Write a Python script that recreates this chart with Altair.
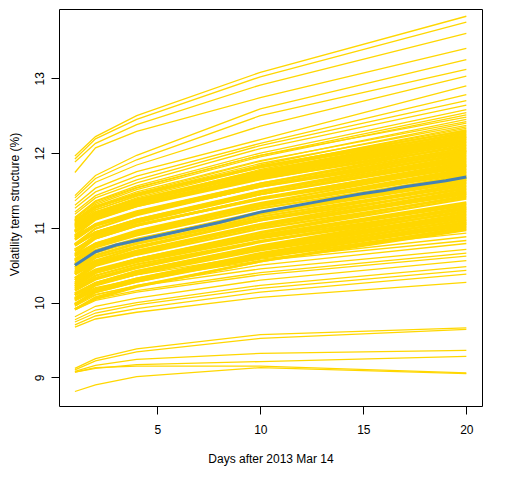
import altair as alt
import pandas as pd

days = [1, 2, 4, 10, 20]

day1 = [11.96, 11.92, 11.88, 11.74, 11.43, 11.40, 11.36, 11.30, 11.26, 11.21, 11.18, 11.14,
        11.12, 11.10, 11.13, 11.06, 11.09, 11.04, 11.07, 11.01, 11.05, 10.99,
        11.10, 11.02, 11.08, 11.03, 10.95, 11.05, 10.96, 11.00, 10.90, 10.94,
        10.88, 10.96, 10.87, 10.89, 10.78, 10.85, 10.78, 10.84, 10.76, 10.77,
        10.69, 10.77, 10.71, 10.65, 10.71, 10.64, 10.69, 10.57, 10.63, 10.58,
        10.62, 10.52, 10.55, 10.50, 10.56, 10.47, 10.51, 10.41, 10.44, 10.47,
        10.38, 10.41, 10.32, 10.39, 10.33, 10.38, 10.27, 10.30, 10.25, 10.30,
        10.21, 10.24, 10.16, 10.22, 10.17, 10.12, 10.19, 10.10, 10.12, 10.04,
        10.10, 10.03, 10.06, 9.98, 10.05, 9.97, 9.98, 9.91, 9.96, 9.91,
        10.10, 10.02, 10.06, 9.95, 9.98, 9.92, 9.90, 9.81, 9.77, 9.74, 9.70, 9.67,
        9.12, 9.10, 9.08, 9.07, 9.07, 8.81]

day2 = [12.22, 12.19, 12.13, 12.07, 11.70, 11.66, 11.61, 11.53, 11.48, 11.43, 11.40, 11.36,
        11.33, 11.31, 11.35, 11.26, 11.29, 11.24, 11.27, 11.21, 11.24, 11.19,
        11.28, 11.18, 11.28, 11.21, 11.17, 11.20, 11.14, 11.15, 11.11, 11.12,
        11.04, 11.15, 11.05, 11.04, 10.99, 11.03, 10.94, 11.03, 10.94, 10.92,
        10.90, 10.94, 10.86, 10.86, 10.88, 10.79, 10.88, 10.75, 10.78, 10.78,
        10.79, 10.67, 10.74, 10.68, 10.70, 10.67, 10.68, 10.56, 10.63, 10.63,
        10.53, 10.60, 10.50, 10.53, 10.52, 10.54, 10.42, 10.49, 10.42, 10.44,
        10.40, 10.40, 10.31, 10.40, 10.33, 10.26, 10.36, 10.26, 10.26, 10.23,
        10.25, 10.17, 10.24, 10.15, 10.18, 10.15, 10.14, 10.05, 10.14, 10.07,
        10.25, 10.17, 10.20, 10.10, 10.11, 10.05, 10.03, 9.95, 9.90, 9.86, 9.82, 9.78,
        9.25, 9.22, 9.16, 9.12, 9.13, 8.90]

day4 = [12.50, 12.45, 12.38, 12.29, 11.97, 11.91, 11.84, 11.75, 11.69, 11.64, 11.60, 11.56,
        11.53, 11.51, 11.54, 11.46, 11.48, 11.43, 11.45, 11.40, 11.42, 11.37,
        11.45, 11.36, 11.45, 11.38, 11.34, 11.36, 11.32, 11.32, 11.29, 11.29,
        11.21, 11.31, 11.22, 11.20, 11.17, 11.19, 11.11, 11.19, 11.11, 11.09,
        11.07, 11.10, 11.03, 11.03, 11.04, 10.96, 11.04, 10.92, 10.94, 10.94,
        10.94, 10.84, 10.90, 10.84, 10.85, 10.83, 10.83, 10.73, 10.79, 10.79,
        10.69, 10.75, 10.66, 10.68, 10.68, 10.69, 10.58, 10.64, 10.58, 10.58,
        10.55, 10.55, 10.46, 10.54, 10.48, 10.42, 10.51, 10.42, 10.40, 10.38,
        10.40, 10.32, 10.38, 10.30, 10.32, 10.30, 10.28, 10.21, 10.28, 10.22,
        10.37, 10.30, 10.31, 10.23, 10.22, 10.16, 10.14, 10.06, 10.00, 9.97, 9.92, 9.87,
        9.38, 9.34, 9.24, 9.17, 9.15, 9.01]

day10 = [13.08, 13.02, 12.91, 12.74, 12.59, 12.50, 12.36, 12.18, 12.13, 12.10, 12.06, 12.00,
         11.97, 11.95, 11.97, 11.89, 11.90, 11.84, 11.86, 11.81, 11.82, 11.78,
         11.82, 11.75, 11.81, 11.76, 11.74, 11.72, 11.70, 11.68, 11.68, 11.65,
         11.59, 11.66, 11.59, 11.56, 11.56, 11.55, 11.49, 11.55, 11.48, 11.45,
         11.45, 11.45, 11.39, 11.40, 11.39, 11.33, 11.38, 11.30, 11.29, 11.31,
         11.29, 11.21, 11.26, 11.20, 11.19, 11.20, 11.18, 11.10, 11.15, 11.12,
         11.05, 11.10, 11.03, 11.02, 11.03, 11.02, 10.94, 10.99, 10.93, 10.90,
         10.90, 10.88, 10.81, 10.86, 10.82, 10.76, 10.82, 10.75, 10.73, 10.73,
         10.72, 10.66, 10.70, 10.64, 10.64, 10.64, 10.62, 10.55, 10.60, 10.55,
         10.64, 10.58, 10.56, 10.50, 10.45, 10.40, 10.37, 10.30, 10.23, 10.19, 10.14, 10.07,
         9.57, 9.52, 9.32, 9.21, 9.15, 9.13]

day20 = [13.83, 13.75, 13.60, 13.40, 13.25, 13.12, 13.03, 12.90, 12.78, 12.70, 12.64, 12.58,
         12.54, 12.51, 12.48, 12.45, 12.42, 12.40, 12.37, 12.35, 12.33, 12.31,
         12.30, 12.28, 12.26, 12.24, 12.22, 12.21, 12.19, 12.17, 12.15, 12.13,
         12.11, 12.09, 12.07, 12.05, 12.03, 12.02, 12.00, 11.98, 11.96, 11.94,
         11.92, 11.90, 11.88, 11.86, 11.84, 11.83, 11.81, 11.79, 11.77, 11.75,
         11.73, 11.71, 11.69, 11.67, 11.65, 11.64, 11.62, 11.60, 11.58, 11.56,
         11.54, 11.52, 11.50, 11.48, 11.46, 11.45, 11.43, 11.41, 11.39, 11.34,
         11.32, 11.30, 11.28, 11.26, 11.25, 11.23, 11.21, 11.19, 11.17, 11.15,
         11.13, 11.11, 11.10, 11.08, 11.06, 11.05, 11.03, 11.01, 10.99, 10.97,
         10.93, 10.88, 10.83, 10.79, 10.71, 10.66, 10.62, 10.56, 10.48, 10.43, 10.38, 10.27,
         9.66, 9.64, 9.36, 9.28, 9.06, 9.05]

# Blue mean curve
mean_days = list(range(1, 21))
mean_vals = [10.50, 10.68, 10.77, 10.83, 10.89, 10.95, 11.01, 11.07, 11.14, 11.21,
             11.26, 11.31, 11.36, 11.41, 11.46, 11.50, 11.55, 11.59, 11.63, 11.68]

x_ticks = [5, 10, 15, 20]
y_ticks = [9, 10, 11, 12, 13]

cols = [day1, day2, day4, day10, day20]
n = len(day1)
assert all(len(c) == n for c in cols), [len(c) for c in cols]
rows = []
for k in range(n):
    for d, col in zip(days, cols):
        rows.append({"series": k, "day": d, "vol": col[k]})
df = pd.DataFrame(rows)
# the tightly packed middle curves (drawn a little heavier so the band reads as solid)
dense_idx = set(range(22, 92))
df_dense = df[df["series"].isin(dense_idx)]
df_sparse = df[~df["series"].isin(dense_idx)]
mdf = pd.DataFrame({"day": mean_days, "vol": mean_vals})

FONT = "Liberation Sans"
xs = alt.Scale(domain=[0.228, 20.76], nice=False, zero=False)
ys = alt.Scale(domain=[8.616, 13.927], nice=False, zero=False)

xaxis = alt.Axis(title="Days after 2013 Mar 14", values=x_ticks, grid=False, domain=False,
                 tickSize=8, tickColor="black", tickWidth=1, format="d",
                 labelPadding=19, labelBaseline="alphabetic", labelFlush=False, labelOverlap=False,
                 labelFontSize=12, labelFont=FONT, labelColor="black",
                 titleFont=FONT, titleFontSize=12, titleFontWeight="normal", titleColor="black",
                 titleY=56.7, titleBaseline="alphabetic")
yaxis = alt.Axis(title="Volatility term structure (%)", values=y_ticks, grid=False, domain=False,
                 tickSize=8, tickColor="black", tickWidth=1, format="d",
                 labelAngle=270, labelAlign="center", labelBaseline="alphabetic", labelPadding=8,
                 labelFlush=False, labelOverlap=False,
                 labelFontSize=12, labelFont=FONT, labelColor="black",
                 titleFont=FONT, titleFontSize=12, titleFontWeight="normal", titleColor="black",
                 titleAngle=270, titleX=-41, titleY=195, titleAlign="center",
                 titleBaseline="alphabetic", titleLimit=400)

sparse = alt.Chart(df_sparse).mark_line(color="#FFD700", strokeWidth=1.3).encode(
    x=alt.X("day:Q", scale=xs, axis=xaxis),
    y=alt.Y("vol:Q", scale=ys, axis=yaxis),
    detail="series:N",
)
dense = alt.Chart(df_dense).mark_line(color="#FFD700", strokeWidth=2.4).encode(
    x=alt.X("day:Q", scale=xs),
    y=alt.Y("vol:Q", scale=ys),
    detail="series:N",
)
blue = alt.Chart(mdf).mark_line(color="#4682B4", strokeWidth=3).encode(
    x=alt.X("day:Q", scale=xs),
    y=alt.Y("vol:Q", scale=ys),
)

chart = alt.layer(sparse, dense, blue).properties(
    width=423, height=397,
    autosize=alt.AutoSizeParams(type="none"),
    padding={"left": 51, "top": 1, "right": 10, "bottom": 70},
    background="white",
).configure_view(stroke="black", strokeWidth=1)

chart.save("out.html", embed_options={"renderer": "svg", "actions": False})
